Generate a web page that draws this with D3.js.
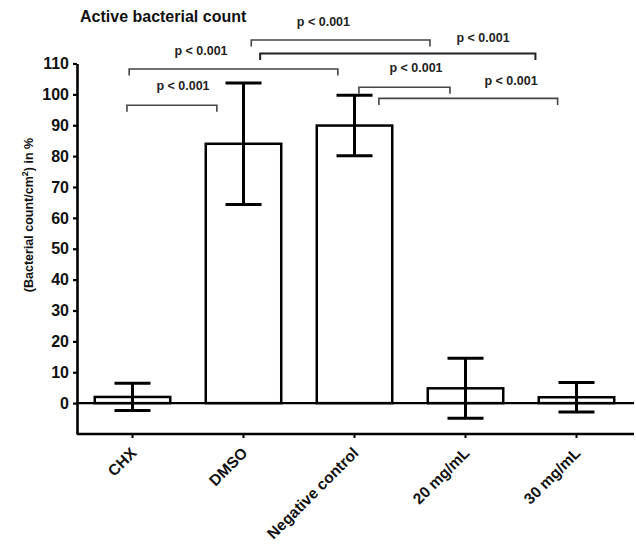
<!DOCTYPE html>
<html>
<head>
<meta charset="utf-8">
<script src="https://cdn.jsdelivr.net/npm/d3@7"></script>
<style>
  html, body { margin: 0; padding: 0; background: #fff; }
  svg { display: block; font-family: Arial, "Liberation Sans", Helvetica, sans-serif; }
</style>
</head>
<body>
<svg id="chart" width="636" height="545"></svg>
<script>
// ---- data ----
const categories = ["CHX", "DMSO", "Negative control", "20 mg/mL", "30 mg/mL"];
const means = [2.0, 84.0, 89.9, 4.8, 1.9];
const sds = [4.4, 19.7, 9.8, 9.7, 4.8];
const yTicks = [0, 10, 20, 30, 40, 50, 60, 70, 80, 90, 100, 110];
const title = "Active bacterial count";
// significance brackets: from / to positions in category index units, level in % units
const bracketFrom  = [-0.05, -0.03, 1.07, 1.15, 2.04, 2.22];
const bracketTo    = [0.76, 1.85, 2.68, 3.63, 2.86, 3.83];
const bracketLevel = [96.5, 108.2, 117.6, 113.2, 102.3, 98.7];
const bracketLabelAt = [0.455, 0.617, 1.72, 3.158, 2.554, 3.41];
const bracketLabelLevel = [101.5, 112.7, 122.2, 117.1, 107.4, 103.1];
const bracketText = ["p < 0.001", "p < 0.001", "p < 0.001", "p < 0.001", "p < 0.001", "p < 0.001"];

const svg = d3.select("#chart");

const x = d3.scaleBand().domain(categories).range([77, 632]).paddingInner(0.32).paddingOuter(0.16);
const y = d3.scaleLinear().domain([-10, 110]).range([434, 63.5]);
const xc = d3.scaleLinear().domain([0, categories.length - 1])
  .range([x(categories[0]) + x.bandwidth() / 2, x(categories[categories.length - 1]) + x.bandwidth() / 2]);

// title
svg.append("text").attr("x", 80).attr("y", 22)
  .attr("font-size", 16).attr("font-weight", "bold").attr("fill", "#111").text(title);

// y label
const yl = svg.append("text")
  .attr("transform", "translate(33,215) rotate(-90)")
  .attr("text-anchor", "middle").attr("font-size", 12.5).attr("font-weight", "bold").attr("fill", "#111");
yl.append("tspan").text("(Bacterial count/cm");
yl.append("tspan").attr("font-size", 9).attr("dy", -5).text("2");
yl.append("tspan").attr("dy", 5).text(") in %");

// zero line
svg.append("line").attr("x1", 77).attr("x2", 634).attr("y1", y(0)).attr("y2", y(0))
  .attr("stroke", "#000").attr("stroke-width", 2.2);

// bars
const idx = d3.range(categories.length);
svg.append("g").selectAll("rect").data(idx).join("rect")
  .attr("x", i => x(categories[i]))
  .attr("width", x.bandwidth())
  .attr("y", i => y(means[i]))
  .attr("height", i => y(0) - y(means[i]))
  .attr("fill", "#fff").attr("stroke", "#000").attr("stroke-width", 2.5);

// error bars
const capW = 36;
const eg = svg.append("g").attr("stroke", "#000").attr("stroke-width", 3);
idx.forEach(i => {
  const cx = x(categories[i]) + x.bandwidth() / 2;
  const top = y(means[i] + sds[i]), bot = y(means[i] - sds[i]);
  eg.append("line").attr("x1", cx).attr("x2", cx).attr("y1", top).attr("y2", bot);
  eg.append("line").attr("x1", cx - capW / 2).attr("x2", cx + capW / 2).attr("y1", top).attr("y2", top);
  eg.append("line").attr("x1", cx - capW / 2).attr("x2", cx + capW / 2).attr("y1", bot).attr("y2", bot);
});

// axes
const yAxis = d3.axisLeft(y).tickValues(yTicks).tickSize(4).tickSizeOuter(0).tickPadding(4);
const gy = svg.append("g").attr("transform", "translate(77,0)").call(yAxis);
gy.select(".domain").attr("stroke-width", 2.6);
gy.selectAll(".tick line").attr("stroke-width", 2.2);
gy.selectAll(".tick text").attr("font-size", 16).attr("font-weight", "bold")
  .attr("font-family", "Arial, 'Liberation Sans', sans-serif").attr("fill", "#111");

const xAxis = d3.axisBottom(x).tickSize(4).tickSizeOuter(0).tickFormat(() => "");
const gx = svg.append("g").attr("transform", "translate(0,434)").call(xAxis);
gx.select(".domain").attr("d", "M77,0H634").attr("stroke-width", 2.6);
gx.selectAll(".tick line").attr("stroke-width", 2);

// rotated x labels
svg.append("g").selectAll("text").data(idx).join("text")
  .attr("transform", i => `translate(${x(categories[i]) + x.bandwidth() / 2 + 5},454) rotate(-45)`)
  .attr("text-anchor", "end").attr("font-size", 15.5).attr("font-weight", "bold").attr("fill", "#111")
  .text(i => categories[i]);

// brackets
const bg = svg.append("g");
bracketFrom.forEach((f, k) => {
  const x1 = xc(f), x2 = xc(bracketTo[k]), yy = y(bracketLevel[k]);
  bg.append("path")
    .attr("d", `M${x1},${yy + 6.5}V${yy}H${x2}V${yy + 6.5}`)
    .attr("fill", "none").attr("stroke", k === 3 ? "#222" : "#444")
    .attr("stroke-width", k === 3 ? 2 : 1.6);
  bg.append("text").attr("x", xc(bracketLabelAt[k])).attr("y", y(bracketLabelLevel[k]))
    .attr("text-anchor", "middle").attr("font-size", 12.5).attr("font-weight", "bold").attr("fill", "#222")
    .text(bracketText[k]);
});
</script>
</body>
</html>
